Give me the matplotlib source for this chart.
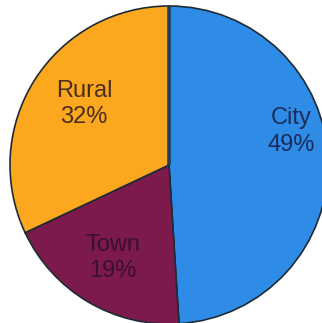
import matplotlib.pyplot as plt

# settlement share
categories = ["City", "Town", "Rural"]
shares = [49, 19, 32]

colors = ["#2e8ce6", "#7b1a4b", "#fca81f"]
text_colors = ["#1b2c5c", "#3a1030", "#4a2e1c"]
# label anchor points (pie radius = 1)
label_pos = [(0.77, 0.21), (-0.355, -0.585), (-0.535, 0.385)]

plt.rcParams['font.family'] = ['Liberation Sans', 'DejaVu Sans']

fig = plt.figure(figsize=(3.22, 3.23), dpi=100)
ax = fig.add_axes([10 / 322, -1 / 323, 318 / 322, 318 / 323])

ax.pie(shares, colors=colors, startangle=90, counterclock=False,
       radius=1.0, frame=False,
       wedgeprops=dict(edgecolor="#1e2a36", linewidth=1.2))

# heavier divider on the top seam
ax.plot([0, 0], [0, 1], color="#1d3d5e", lw=2.6, solid_capstyle="butt")

for name, val, (x, y), tc in zip(categories, shares, label_pos, text_colors):
    ax.text(x, y, f"{name}\n{val}%", ha="center", va="center",
            fontsize=17, color=tc, linespacing=1.25)

ax.set_xlim(-1, 1)
ax.set_ylim(-1, 1)
ax.set_aspect("equal")
ax.axis("off")

fig.savefig("out.png", dpi=100)
